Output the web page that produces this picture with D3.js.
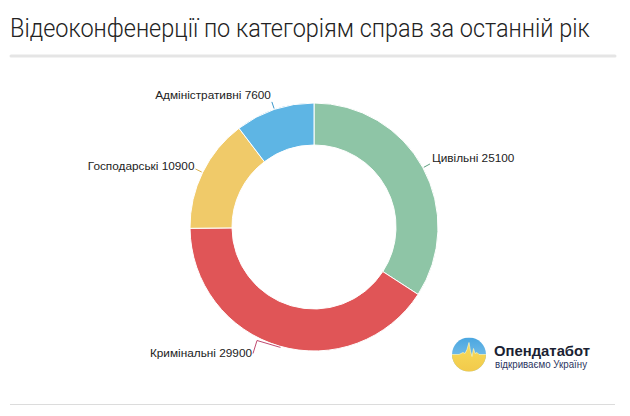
<!DOCTYPE html>
<html><head><meta charset="utf-8">
<script src="https://cdn.jsdelivr.net/npm/d3@7"></script>
<style>
html,body{margin:0;padding:0;background:#fff;}
svg{display:block;}
</style></head>
<body>
<svg id="chart" width="630" height="416"></svg>
<script>
const title = "Відеоконфенерції по категоріям справ за останній рік";
const categories = ["Цивільні", "Кримінальні", "Господарські", "Адміністративні"];
const values = [25100, 29900, 10900, 7600];
const colors = ["#8ec5a6", "#e05557", "#f0ca69", "#5eb5e4"];
const leaderColors = ["#5f9f80", "#c04a70", "#d9b04c", "#3c98cc"];

const svg = d3.select("#chart");
const cx = 314, cy = 227, rOuter = 124, rInner = 82;
const font = "'Liberation Sans', Arial, Helvetica, sans-serif";

// title: fit to 580px wide, then stretch vertically to the reference height
const tg = svg.append("g");
const tt = tg.append("text").attr("x", 0).attr("y", 0)
  .attr("font-family", "Roboto, 'Liberation Sans', sans-serif").attr("font-size", 26).attr("fill", "#222")
  .attr("font-weight", 300)
  .text(title);
const natW = tt.node().getComputedTextLength();
const fs = 26 * 580 / natW;
tt.attr("font-size", fs);
tg.attr("transform", `translate(10,37) scale(1,${26 / fs})`);

svg.append("line").attr("x1", 11).attr("x2", 615).attr("y1", 56).attr("y2", 56)
  .attr("stroke", "#e5e5e5").attr("stroke-width", 3).attr("stroke-linecap", "round");
svg.append("line").attr("x1", 10).attr("x2", 615).attr("y1", 404.5).attr("y2", 404.5)
  .attr("stroke", "#dcdcdc").attr("stroke-width", 1);

const data = categories.map((c, i) => ({ name: c, value: values[i], color: colors[i], lc: leaderColors[i] }));
const pie = d3.pie().sort(null).value(d => d.value);
const arcs = pie(data);
const arc = d3.arc().innerRadius(rInner).outerRadius(rOuter);

const g = svg.append("g").attr("transform", `translate(${cx},${cy})`);
g.selectAll("path.slice").data(arcs).join("path")
  .attr("class", "slice")
  .attr("d", arc)
  .attr("fill", d => d.data.color)
  .attr("stroke", "#fff").attr("stroke-width", 1);

const pt = (a, r) => [Math.sin(a) * r, -Math.cos(a) * r];

arcs.forEach((d, i) => {
  const mid = (d.startAngle + d.endAngle) / 2;
  const p0 = pt(mid, rOuter + 1);
  let pts, lx, ly, anchor;
  const right = Math.sin(mid) > 0;
  if (d.data.name === "Кримінальні") {
    const p1 = pt(mid + 10.5 * Math.PI / 180, rOuter + 3);
    const p2 = [p1[0] - 4, p1[1] + 13];
    pts = [pt(mid - 0.6 * Math.PI / 180, rOuter + 1), p0, p1, p2];
    lx = p2[0] - 1; ly = p2[1] + 4; anchor = "end";
  } else {
    const p1 = pt(mid, rOuter + 8);
    pts = [p0, p1];
    lx = p1[0] + (right ? 2 : -1);
    ly = p1[1] + (right ? -2 : (Math.cos(mid) > 0.8 ? -3 : 1));
    anchor = right ? "start" : "end";
  }
  g.append("path")
    .attr("d", d3.line()(pts))
    .attr("fill", "none").attr("stroke", d.data.lc).attr("stroke-width", 1);
  g.append("text").attr("x", lx).attr("y", ly)
    .attr("text-anchor", anchor)
    .attr("font-family", font).attr("font-size", 11.8).attr("fill", "#222")
    .text(d.data.name + " " + d.data.value);
});

// logo
const lg = svg.append("g").attr("transform", "translate(469,354.5)");
const defs = svg.append("defs");
defs.append("clipPath").attr("id", "lc").append("circle").attr("r", 17);
const blueGrad = defs.append("linearGradient").attr("id", "bg").attr("x1", 0).attr("y1", 0).attr("x2", 0).attr("y2", 1);
blueGrad.append("stop").attr("offset", "0%").attr("stop-color", "#4aa6e0");
blueGrad.append("stop").attr("offset", "100%").attr("stop-color", "#8fcbed");
const yelGrad = defs.append("linearGradient").attr("id", "yg").attr("x1", 0).attr("y1", 0).attr("x2", 0).attr("y2", 1);
yelGrad.append("stop").attr("offset", "0%").attr("stop-color", "#f7dc5a");
yelGrad.append("stop").attr("offset", "100%").attr("stop-color", "#f2c94a");
const cg = lg.append("g").attr("clip-path", "url(#lc)");
cg.append("rect").attr("x", -17).attr("y", -17).attr("width", 34).attr("height", 34).attr("fill", "url(#bg)");
const wave = [[-18, 0], [-10, 0], [-8, -1], [-6, -2], [-4, -1], [-2, -5], [0, -12], [1.5, -3], [3, 2], [4.5, -6], [6, -1], [8, -2], [10, 0], [18, 0], [18, 18], [-18, 18]];
cg.append("path").attr("d", d3.line()(wave) + "Z").attr("fill", "url(#yg)");
cg.append("path").attr("d", d3.line()(wave.slice(0, 14))).attr("fill", "none")
  .attr("stroke", "#fff7c0").attr("stroke-width", 0.8).attr("opacity", 0.8);

svg.append("text").attr("x", 494).attr("y", 356)
  .attr("font-family", font).attr("font-weight", "bold").attr("font-size", 15)
  .attr("textLength", 96).attr("lengthAdjust", "spacingAndGlyphs")
  .attr("fill", "#1b1f33").text("Опендатабот");
svg.append("text").attr("x", 495).attr("y", 368)
  .attr("font-family", font).attr("font-size", 10)
  .attr("textLength", 92).attr("lengthAdjust", "spacingAndGlyphs")
  .attr("fill", "#2b3560").text("відкриваємо Україну");
</script>
</body></html>
